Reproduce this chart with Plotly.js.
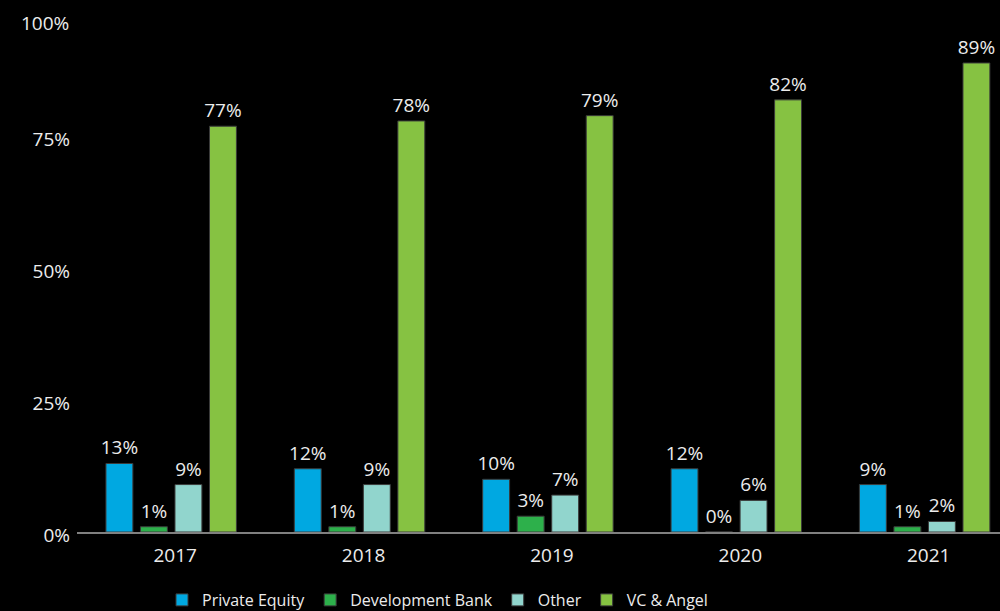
<!DOCTYPE html>
<html>
<head>
<meta charset="utf-8">
<script src="https://cdn.plot.ly/plotly-3.0.1.min.js"></script>
<style>html,body{margin:0;padding:0;background:#000;overflow:hidden}</style>
</head>
<body>
<div id="chart" style="width:1000px;height:611px"></div>
<script>
const years = ['2017', '2018', '2019', '2020', '2021'];
const privateEquity = [0.13, 0.12, 0.10, 0.12, 0.09];
const developmentBank = [0.01, 0.01, 0.03, 0.00, 0.01];
const other = [0.09, 0.09, 0.07, 0.06, 0.02];
const vcAngel = [0.77, 0.78, 0.79, 0.82, 0.89];
const yTicks = [0, 0.25, 0.5, 0.75];
const yTop = 1.0;

const FONT = '"Open Sans", "DejaVu Sans", sans-serif';
const TXT = '#ececec';

function series(name, vals, color) {
  return {
    type: 'bar', name: name, x: years, y: vals,
    marker: {color: color, line: {color: '#3a3a3a', width: 1}},
    texttemplate: '%{y:.0%}', textposition: 'outside', cliponaxis: false,
    constraintext: 'none',
    textfont: {family: FONT, size: 19, color: TXT},
    hoverinfo: 'skip'
  };
}

const data = [
  series('Private Equity', privateEquity, '#00A8E1'),
  series('Development Bank', developmentBank, '#2DB04B'),
  series('Other', other, '#91D5CD'),
  series('VC & Angel', vcAngel, '#86C242')
];

const layout = {
  width: 1000, height: 611,
  margin: {l: 77, r: 0, t: 5, b: 79, autoexpand: false},
  paper_bgcolor: '#000', plot_bgcolor: '#000',
  font: {family: FONT, size: 19, color: TXT},
  barmode: 'group', bargap: 0.267, bargroupgap: 0.22,
  showlegend: true,
  legend: {orientation: 'h', xref: 'container', yref: 'container', x: 0.162, xanchor: 'left',
           y: 0.018, yanchor: 'middle',
           font: {family: FONT, size: 16, color: TXT}, traceorder: 'normal'},
  xaxis: {type: 'category', range: [-0.5, 4.4], showline: true, linecolor: '#808080', linewidth: 2,
          ticks: '', showgrid: false, zeroline: false, ticklabelstandoff: 5, ticklabelshift: 4,
          tickfont: {family: FONT, size: 19, color: TXT}},
  yaxis: {range: [0, yTop], tickvals: yTicks, tickformat: '.0%', showgrid: false, zeroline: false,
          showline: false, ticks: '', ticklabelstandoff: 6, ticklabelshift: 3,
          tickfont: {family: FONT, size: 19, color: TXT}},
  annotations: [{
    xref: 'paper', yref: 'y', x: 0, y: yTop, xanchor: 'right', yanchor: 'middle',
    xshift: -6, yshift: -18, showarrow: false,
    text: (yTop * 100).toFixed(0) + '%', font: {family: FONT, size: 19, color: TXT}
  }]
};

Plotly.newPlot('chart', data, layout, {displayModeBar: false, staticPlot: true});
</script>
</body>
</html>
